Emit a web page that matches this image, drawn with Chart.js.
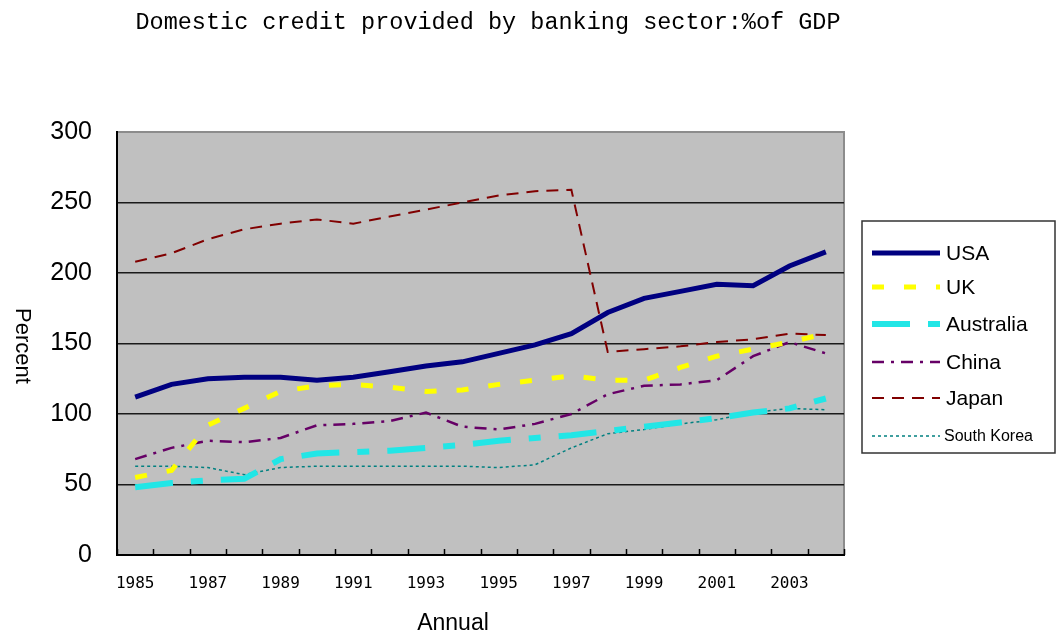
<!DOCTYPE html>
<html>
<head>
<meta charset="UTF-8">
<title>Domestic credit provided by banking sector</title>
<script src="https://cdn.jsdelivr.net/npm/chart.js"></script>
<style>
  html, body { margin: 0; padding: 0; background: #fff; }
  #wrap { width: 1062px; height: 637px; position: relative; }
</style>
</head>
<body>
<div id="wrap"><canvas id="creditChart"></canvas></div>
<script>
// 연도 (카테고리)
const years = ['1985', '1986', '1987', '1988', '1989', '1990', '1991', '1992', '1993', '1994',
               '1995', '1996', '1997', '1998', '1999', '2000', '2001', '2002', '2003', '2004'];

// 국가별 값 (% of GDP) - 그림에서 읽은 값
const usa        = [112, 121, 125, 126, 126, 124, 126, 130, 134, 137, 143, 149, 157, 172, 182, 187, 192, 191, 205, 215];
const uk         = [55, 60, 92, 104, 116, 120, 121, 119, 116, 117, 121, 124, 127, 124, 124, 133, 141, 146, 151, 157];
const australia  = [48, 51, 53, 54, 68, 72, 73, 74, 76, 78, 81, 83, 85, 88, 91, 94, 97, 101, 104, 111];
const china      = [68, 76, 81, 80, 83, 92, 93, 95, 101, 91, 89, 93, 100, 114, 120, 121, 124, 141, 151, 143];
const japan      = [208, 214, 224, 231, 235, 238, 235, 240, 245, 250, 255, 258, 259, 144, 146, 148, 151, 153, 157, 156];
const southKorea = [63, 63, 62, 57, 62, 63, 63, 63, 63, 63, 62, 64, 76, 86, 89, 93, 96, 101, 104, 103];

// y축 눈금
const yTicks = [0, 50, 100, 150, 200, 250, 300];

const chartTitle = 'Domestic credit provided by banking sector:%of GDP';
const yTitle = 'Percent';
const xTitle = 'Annual';

// 그림 영역 배경 + 테두리
const plotBackground = {
    id: 'plotBackground',
    beforeDraw(chart) {
        const { ctx, chartArea: a } = chart;
        ctx.save();
        ctx.fillStyle = '#c0c0c0';
        ctx.fillRect(a.left, a.top, a.right - a.left, a.bottom - a.top);
        ctx.strokeStyle = '#8c8c8c';
        ctx.lineWidth = 2;
        ctx.beginPath();
        ctx.moveTo(a.left, a.top);
        ctx.lineTo(a.right, a.top);
        ctx.lineTo(a.right, a.bottom);
        ctx.stroke();
        ctx.restore();
    }
};

// 제목, 축 제목, 안쪽 눈금, 범례
const decorations = {
    id: 'decorations',
    afterDraw(chart) {
        const { ctx, chartArea: a } = chart;
        const xs = chart.scales.x;
        ctx.save();

        // 안쪽 x 눈금 (카테고리 경계)
        ctx.strokeStyle = '#000';
        ctx.lineWidth = 1.5;
        ctx.beginPath();
        for (let i = 0; i <= years.length; i++) {
            const x = Math.round(xs.getPixelForValue(i - 0.5)) + 0.5;
            ctx.moveTo(x, a.bottom);
            ctx.lineTo(x, a.bottom - 6);
        }
        ctx.stroke();

        // 제목
        ctx.fillStyle = '#000';
        ctx.textAlign = 'center';
        ctx.textBaseline = 'middle';
        ctx.font = '23.5px "Liberation Mono", monospace';
        ctx.fillText(chartTitle, 488, 23);

        // x축 제목
        ctx.font = '23px "Liberation Sans", Arial, sans-serif';
        ctx.fillText(xTitle, 453, 624);

        // y축 제목 (시계방향 회전)
        ctx.save();
        ctx.translate(22, 346);
        ctx.rotate(Math.PI / 2);
        ctx.font = '22px "Liberation Sans", Arial, sans-serif';
        ctx.fillText(yTitle, 0, 0);
        ctx.restore();

        // 범례
        const box = { left: 862, top: 221, right: 1055, bottom: 453 };
        ctx.fillStyle = '#fff';
        ctx.fillRect(box.left, box.top, box.right - box.left, box.bottom - box.top);
        ctx.strokeStyle = '#333';
        ctx.lineWidth = 1.5;
        ctx.strokeRect(box.left, box.top, box.right - box.left, box.bottom - box.top);

        const rowY = [253, 287, 324, 362, 398, 436];
        chart.data.datasets.forEach((ds, i) => {
            const y = rowY[i];
            ctx.save();
            ctx.beginPath();
            ctx.rect(box.left, box.top, box.right - box.left - 1, box.bottom - box.top);
            ctx.clip();
            ctx.strokeStyle = ds.borderColor;
            ctx.lineWidth = ds.borderWidth;
            ctx.setLineDash(ds.borderDash || []);
            ctx.beginPath();
            ctx.moveTo(872, y);
            ctx.lineTo(940, y);
            ctx.stroke();
            ctx.setLineDash([]);
            ctx.fillStyle = '#000';
            ctx.textAlign = 'left';
            ctx.textBaseline = 'middle';
            ctx.font = (i === 5 ? '16px' : '21px') + ' "Liberation Sans", Arial, sans-serif';
            ctx.fillText(ds.label, i === 5 ? 944 : 946, y + 1);
            ctx.restore();
        });

        ctx.restore();
    }
};

const ctx = document.getElementById('creditChart').getContext('2d');
const chart = new Chart(ctx, {
    type: 'line',
    data: {
        labels: years,
        datasets: [
            { label: 'USA', data: usa, borderColor: '#000080', borderWidth: 5, borderDash: [] },
            { label: 'UK', data: uk, borderColor: '#ffff00', borderWidth: 5, borderDash: [12, 20] },
            { label: 'Australia', data: australia, borderColor: '#22e6e6', borderWidth: 6, borderDash: [38, 18, 12, 18] },
            { label: 'China', data: china, borderColor: '#660066', borderWidth: 2.5, borderDash: [12, 7, 3, 7] },
            { label: 'Japan', data: japan, borderColor: '#800000', borderWidth: 2, borderDash: [12, 8] },
            { label: 'South Korea', data: southKorea, borderColor: '#008080', borderWidth: 1.5, borderDash: [3, 3] }
        ].map(ds => Object.assign(ds, { fill: false, tension: 0, pointRadius: 0, pointHoverRadius: 0 }))
    },
    options: {
        responsive: true,
        maintainAspectRatio: false,
        animation: false,
        layout: { padding: { top: 132, right: 218, left: 0, bottom: 0 } },
        plugins: {
            legend: { display: false },
            title: { display: false },
            tooltip: { enabled: false }
        },
        scales: {
            x: {
                offset: true,
                grid: { display: true, drawOnChartArea: false, drawTicks: false },
                border: { display: true, color: '#000', width: 2 },
                ticks: {
                    autoSkip: false,
                    maxRotation: 0,
                    padding: 19,
                    color: '#000',
                    font: { family: '"DejaVu Sans Mono", monospace', size: 16 },
                    callback: (v, i) => (i % 2 === 0 ? years[i] : '')
                },
                afterFit: s => { s.height = 82; }
            },
            y: {
                min: 0,
                max: 300,
                afterBuildTicks: s => { s.ticks = yTicks.map(v => ({ value: v })); },
                grid: {
                    drawTicks: false,
                    lineWidth: 1.5,
                    color: c => (c.tick && c.tick.value === 300 ? 'rgba(0,0,0,0)' : '#1a1a1a')
                },
                border: { display: true, color: '#000', width: 2 },
                ticks: {
                    padding: 25,
                    color: '#000',
                    font: { family: '"Liberation Sans", Arial, sans-serif', size: 25 }
                },
                afterFit: s => { s.width = 117; }
            }
        }
    },
    plugins: [plotBackground, decorations]
});
</script>
</body>
</html>
